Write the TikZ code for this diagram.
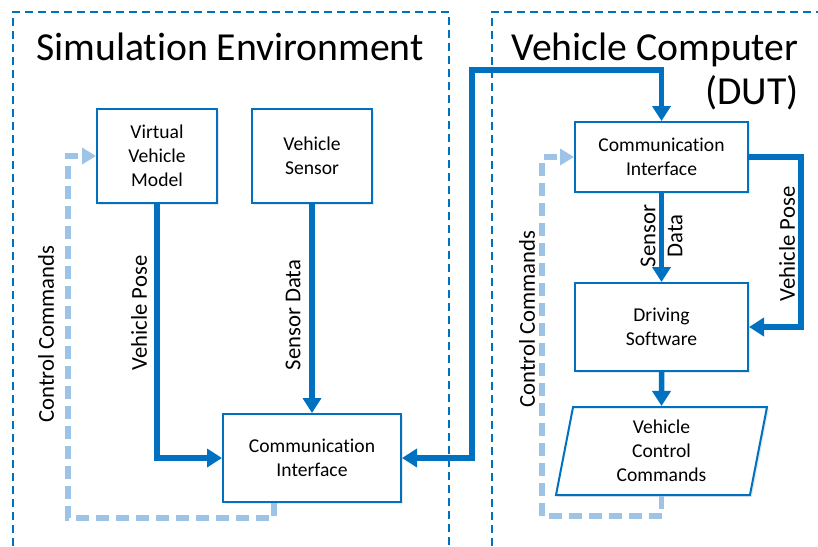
\documentclass[tikz,border=0pt]{standalone}
\usepackage{fontspec}
\setmainfont{Carlito}[Ligatures=NoCommon]
\usetikzlibrary{arrows.meta,shapes.geometric,shadows}
\definecolor{dutblue}{RGB}{0,112,192}
\definecolor{ctrlblue}{RGB}{157,195,230}
\tikzset{
  Fat/.tip={Triangle[length=15pt,width=18pt]},
  Thin/.tip={Triangle[length=14pt,width=16pt]}
}
\begin{document}
\begin{tikzpicture}[x=1pt,y=-1pt,
  box/.style={draw=dutblue,line width=2pt,fill=white,align=center,
    font=\fontsize{19.6}{24}\selectfont,
    drop shadow={shadow xshift=2pt,shadow yshift=-2pt,opacity=0.18}},
  frame/.style={draw=dutblue,line width=1.8pt,dash pattern=on 8pt off 5pt},
  flow/.style={draw=dutblue,line width=5.5pt,-Fat},
  ctrl/.style={draw=ctrlblue,line width=5.5pt,dash pattern=on 13pt off 7pt,-Thin},
  lbl/.style={rotate=90,align=center,font=\fontsize{22.7}{27}\selectfont},
  title/.style={font=\fontsize{39.7}{47}\selectfont}]
\useasboundingbox (0,0) rectangle (818,546);

% the two environments
\draw[frame] (13,546) -- (13,12) -- (449,12) -- (449,546);
\draw[frame] (492,546) -- (492,12) -- (818,12);
\node[title,anchor=base] (simTitle) at (230,60) {Simulation Environment};
\node[title,anchor=base east] (dutTitle) at (802,60) {Vehicle Computer};
\node[title,anchor=base east] (dutTag) at (802,104) {(DUT)};

% simulation side
\node[box,minimum width=120pt,minimum height=94pt] (vvm) at (157,156) {Virtual\\Vehicle\\Model};
\node[box,minimum width=120pt,minimum height=94pt] (sensor) at (312,156) {Vehicle\\Sensor};
\node[box,minimum width=178pt,minimum height=88pt] (simIf) at (312,458) {Communication\\Interface};

% vehicle computer side
\node[box,minimum width=173pt,minimum height=70pt] (dutIf) at (661.5,157) {Communication\\Interface};
\node[box,minimum width=173pt,minimum height=88pt] (drive) at (661.5,327) {Driving\\Software};
\node[box,trapezium,trapezium left angle=76,trapezium right angle=104,
  trapezium stretches body,minimum width=211pt,minimum height=88pt] (cmds) at (661.5,451) {Vehicle\\Control\\Commands};

\coordinate (bend) at (472,70);

\draw[flow] (vvm.south) |- (simIf.west);
\draw[flow] (sensor.south) -- (simIf.north);
\draw[flow,Fat-Fat] (simIf.east) -| (bend) -| (dutIf.north);
\draw[flow] (dutIf.south) -- (drive.north);
\draw[flow] (dutIf.east) -- ++(52,0) |- (drive.east);
\draw[flow] (drive.south) -- (cmds.north);

% feedback of the control commands
\draw[ctrl] (cmds.south) |- (542,516) |- (dutIf.west);
\draw[ctrl] ([xshift=-38pt]simIf.south) |- (68,518) |- (vvm.west);

\node[lbl] (poseSim) at (139,313) {Vehicle Pose};
\node[lbl] (dataSim) at (293,315) {Sensor Data};
\node[lbl] (ctrlSim) at (46,334) {Control Commands};
\node[lbl] (ctrlDut) at (527,319) {Control Commands};
\node[lbl] (poseDut) at (787,244) {Vehicle Pose};
\node[lbl] (dataDut) at (661.5,236) {Sensor\\Data};
\end{tikzpicture}
\end{document}
